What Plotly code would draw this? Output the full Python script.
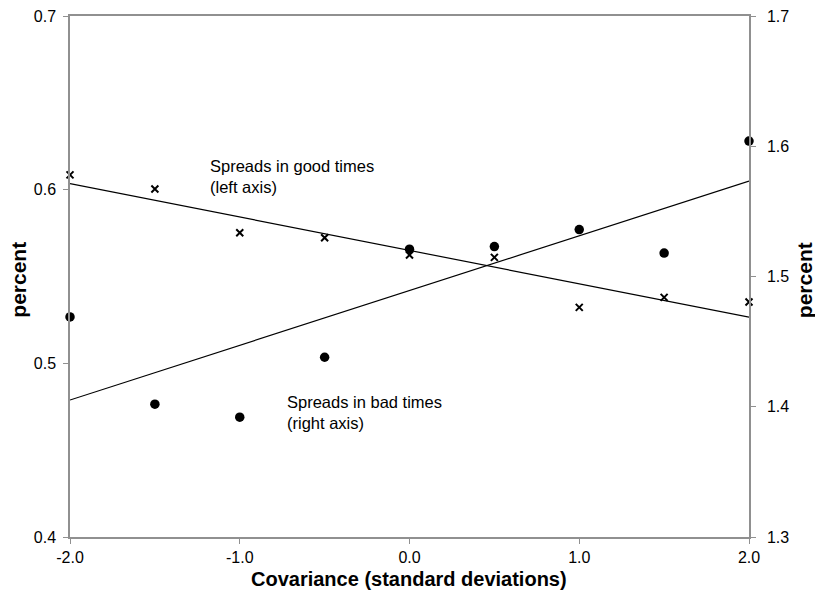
import numpy as np
import plotly.graph_objects as go

x_vals = [-2.0, -1.5, -1.0, -0.5, 0.0, 0.5, 1.0, 1.5, 2.0]
good_times = [0.6085, 0.6004, 0.5752, 0.5723, 0.5624, 0.5610, 0.5322, 0.5380, 0.5353]
bad_times = [1.469, 1.402, 1.392, 1.438, 1.521, 1.523, 1.536, 1.518, 1.604]
x_ticks = [-2.0, -1.0, 0.0, 1.0, 2.0]
x_tick_labels = ["-2.0", "-1.0", "0.0", "1.0", "2.0"]
left_ticks = [0.4, 0.5, 0.6, 0.7]
right_ticks = [1.3, 1.4, 1.5, 1.6, 1.7]

FONT = "Arial, Liberation Sans, sans-serif"
AX = "#909090"

xs = np.array(x_vals)
g_fit = np.polyfit(xs, np.array(good_times), 1)
b_fit = np.polyfit(xs, np.array(bad_times), 1)
line_x = [x_vals[0], x_vals[-1]]

fig = go.Figure()
fig.add_trace(go.Scatter(x=line_x, y=list(np.polyval(g_fit, line_x)), mode="lines",
                         line=dict(color="black", width=1.2), yaxis="y", showlegend=False))
fig.add_trace(go.Scatter(x=line_x, y=list(np.polyval(b_fit, line_x)), mode="lines",
                         line=dict(color="black", width=1.2), yaxis="y2", showlegend=False))
fig.add_trace(go.Scatter(x=x_vals, y=good_times, mode="markers",
                         marker=dict(symbol="x-thin", size=7, line=dict(color="black", width=2)),
                         yaxis="y", showlegend=False, cliponaxis=False))
fig.add_trace(go.Scatter(x=x_vals, y=bad_times, mode="markers",
                         marker=dict(symbol="circle", size=9.5, color="black"),
                         yaxis="y2", showlegend=False, cliponaxis=False))

common = dict(showgrid=False, zeroline=False, showline=True, linecolor=AX, linewidth=1.5,
              ticks="outside", tickcolor=AX, ticklen=5, tickfont=dict(size=16), automargin=False,
              ticklabeloverflow="allow")

fig.update_layout(
    width=815, height=593,
    margin=dict(l=69.5, r=66, t=16, b=56.3, autoexpand=False),
    paper_bgcolor="white", plot_bgcolor="white",
    font=dict(family=FONT, size=16, color="black"),
    xaxis=dict(range=[-2, 2], tickvals=x_ticks, ticktext=x_tick_labels, mirror=True, **common),
    yaxis=dict(range=[0.4, 0.7], tickvals=left_ticks, tickformat=".1f", ticklabelstandoff=4, **common),
    yaxis2=dict(range=[1.3, 1.7], tickvals=right_ticks, tickformat=".1f", overlaying="y", side="right",
                ticklabelstandoff=8, **common),
    annotations=[
        dict(x=-1.187, y=0.6075, xref="x", yref="y", xanchor="left", yanchor="middle", showarrow=False,
             align="left", text="Spreads in good times<br>(left axis)", font=dict(size=16.5)),
        dict(x=-0.732, y=1.3953, xref="x", yref="y2", xanchor="left", yanchor="middle", showarrow=False,
             align="left", text="Spreads in bad times<br>(right axis)", font=dict(size=16.5)),
        dict(x=-0.0758, y=0.493, xref="paper", yref="paper", xanchor="center", yanchor="middle",
             showarrow=False, textangle=-90, text="<b>percent</b>", font=dict(size=21)),
        dict(x=1.081, y=0.493, xref="paper", yref="paper", xanchor="center", yanchor="middle",
             showarrow=False, textangle=-90, text="<b>percent</b>", font=dict(size=21)),
        dict(x=0.4996, y=-0.0812, xref="paper", yref="paper", xanchor="center", yanchor="middle",
             showarrow=False, text="<b>Covariance (standard deviations)</b>", font=dict(size=20)),
    ],
)

fig.write_html("out.html", config={"displayModeBar": False},
               post_script="document.body.style.margin='0';")
